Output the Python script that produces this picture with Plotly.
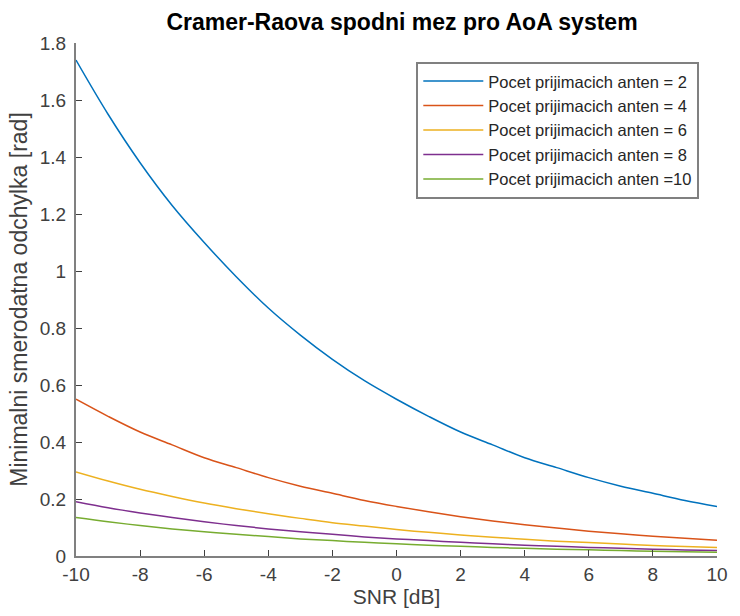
import plotly.graph_objects as go

snr_db = list(range(-10, 11))
labels = ["Pocet prijimacich anten = 2", "Pocet prijimacich anten = 4",
          "Pocet prijimacich anten = 6", "Pocet prijimacich anten = 8",
          "Pocet prijimacich anten =10"]
crb_n2 = [1.74, 1.55, 1.38, 1.23, 1.10, 0.98, 0.87, 0.775, 0.69, 0.615, 0.55,
          0.49, 0.435, 0.39, 0.345, 0.31, 0.275, 0.245, 0.22, 0.195, 0.174]
crb_n4 = [0.55, 0.49, 0.435, 0.39, 0.345, 0.31, 0.275, 0.245, 0.22, 0.195, 0.174,
          0.155, 0.138, 0.123, 0.11, 0.098, 0.087, 0.078, 0.069, 0.062, 0.055]
crb_n6 = [0.295, 0.263, 0.234, 0.209, 0.186, 0.166, 0.148, 0.132, 0.117, 0.105, 0.093,
          0.083, 0.074, 0.066, 0.059, 0.052, 0.047, 0.042, 0.037, 0.033, 0.0295]
crb_n8 = [0.19, 0.169, 0.151, 0.135, 0.12, 0.107, 0.095, 0.085, 0.076, 0.067, 0.06,
          0.054, 0.048, 0.043, 0.038, 0.034, 0.030, 0.027, 0.024, 0.021, 0.019]
crb_n10 = [0.135, 0.12, 0.107, 0.095, 0.085, 0.076, 0.068, 0.06, 0.054, 0.048, 0.043,
           0.038, 0.034, 0.030, 0.027, 0.024, 0.0215, 0.019, 0.017, 0.015, 0.0135]
series = [crb_n2, crb_n4, crb_n6, crb_n8, crb_n10]
colors = ["#0072BD", "#D95319", "#EDB120", "#7E2F8E", "#77AC30"]
x_ticks = [-10, -8, -6, -4, -2, 0, 2, 4, 6, 8, 10]
x_ticktext = ["-10", "-8", "-6", "-4", "-2", "0", "2", "4", "6", "8", "10"]
y_ticks = [0, 0.2, 0.4, 0.6, 0.8, 1, 1.2, 1.4, 1.6, 1.8]
y_ticktext = ["0", "0.2", "0.4", "0.6", "0.8", "1", "1.2", "1.4", "1.6", "1.8"]

fig = go.Figure()
for lab, ys, c in zip(labels, series, colors):
    fig.add_trace(go.Scatter(x=snr_db, y=ys, mode="lines", name=lab,
                             line=dict(color=c, width=1.5, shape="spline")))

font = "Liberation Sans, Arial, sans-serif"
fig.update_layout(
    width=740, height=616,
    margin=dict(l=76, r=12, t=43, b=57),
    paper_bgcolor="white", plot_bgcolor="white",
    font=dict(family=font, size=17, color="#404040"),
    title=dict(text="<b>Cramer-Raova spodni mez pro AoA system</b>",
               x=(76 + 728) / 2 / 740, xanchor="center", y=1 - 22 / 616, yanchor="middle",
               font=dict(family=font, size=23, color="#000000")),
    xaxis=dict(range=[-10, 10], tickvals=x_ticks, ticktext=x_ticktext,
               showgrid=False, zeroline=False, showline=True, linecolor="#808080",
               linewidth=2, ticks="inside", ticklen=6, tickcolor="#404040", tickwidth=1,
               tickfont=dict(size=19, color="#404040"),
               title=dict(text="SNR [dB]", font=dict(size=21, color="#404040"), standoff=5)),
    yaxis=dict(range=[0, 1.8], tickvals=y_ticks, ticktext=y_ticktext,
               showgrid=False, zeroline=False, showline=True, linecolor="#808080",
               linewidth=2, ticks="inside", ticklen=6, tickcolor="#404040", tickwidth=1,
               tickfont=dict(size=19, color="#404040"), ticklabelstandoff=4,
               title=dict(text="Minimalni smerodatna odchylka [rad]",
                          font=dict(size=23, color="#404040"), standoff=6)),
    legend=dict(x=(710 - 76) / 652, xanchor="right", y=(559 - 62) / 516, yanchor="top",
                bgcolor="white", bordercolor="#808080", borderwidth=2, itemwidth=60,
                font=dict(size=16.5, color="#262626"), tracegroupgap=0),
    showlegend=True,
)

fig.write_html("out.html")
